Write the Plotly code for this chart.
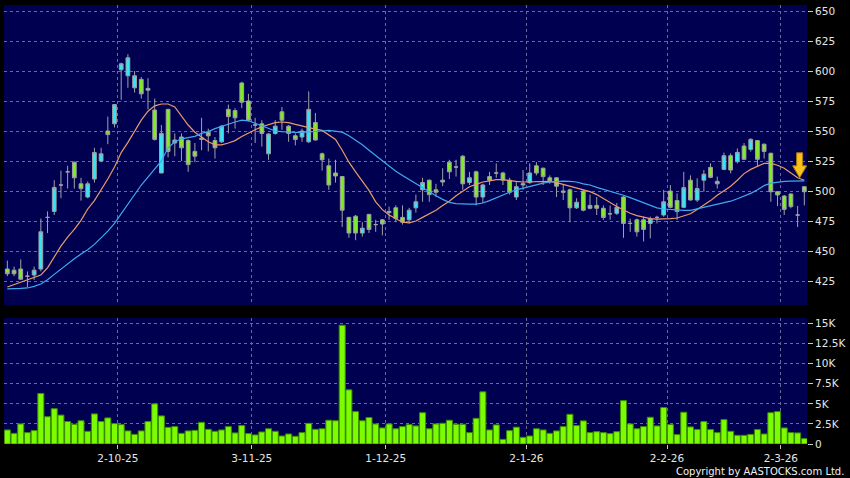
import pandas as pd
import plotly.graph_objects as go

# ---------------- data ----------------
holidays = ["2025-10-01", "2025-10-07", "2025-10-29", "2025-12-25", "2025-12-26",
            "2026-01-01", "2026-02-17", "2026-02-18", "2026-02-19"]
dates = [d.strftime("%Y-%m-%d") for d in pd.bdate_range("2025-09-09", "2026-03-06")
         if d.strftime("%Y-%m-%d") not in holidays]

opens = [435, 434, 435, 429, 430, 435, 478, 483, 505, 516,
         524, 506, 495, 510, 525, 550, 556, 601, 596, 586,
         593, 584, 567.5, 515, 568, 540, 545, 542, 533, 543,
         549, 542, 541, 568, 567, 590, 575, 555, 556, 531,
         548, 566, 554, 546, 545, 541, 557, 531, 521, 515,
         512, 478, 479, 465, 480.5, 472, 476, 482, 486, 478,
         476, 486, 501, 509, 501, 507.5, 524, 520, 529, 507,
         516, 495, 512, 515, 515, 509, 495, 505, 507, 521,
         519, 511, 511, 500, 501, 486, 500, 485.6, 488, 485.6,
         481, 481.4, 495, 473, 476, 476, 473, 478, 480, 500,
         492, 486.4, 509, 492.5, 509, 519.7, 506, 518, 529.4, 524.4,
         537.5, 534.7, 542, 539, 531.4, 499.4, 495.8, 497.5, 480, 503.6]
highs = [442, 437, 443, 433, 437, 477, 483, 509, 517, 521,
         524.5, 511, 508, 536, 536, 562, 572.5, 607, 614, 600,
         595, 594, 577, 555, 568.5, 548, 548, 543, 540, 561,
         552, 545, 555, 572, 569, 591, 581, 561, 559, 548,
         559, 570, 555, 548, 552, 583, 565, 532, 527, 526,
         512.5, 478.5, 480, 474, 481, 476, 476.5, 487, 488, 488,
         486, 497, 511, 509.5, 506, 519, 526, 526, 530, 516,
         517, 506, 516, 523, 516, 511, 508, 517.5, 523, 524,
         519.5, 513, 511.5, 505, 502, 494, 500.5, 497, 495, 488,
         488, 490, 495.5, 477, 477, 478.6, 478.6, 479.4, 501, 505,
         498, 516, 513, 510.6, 517.5, 523, 512, 532, 531.4, 535.5,
         540, 544, 542.5, 539.5, 532, 500, 496.7, 498, 487.5, 504]
lows = [429, 429, 426, 420, 426, 433, 465, 480, 494, 502,
        502, 492, 494, 507, 524, 539, 553, 576, 586, 582,
        577, 568, 542, 515, 528, 529, 525, 516, 524, 534,
        533, 527, 540, 548, 552, 569, 558, 540, 537, 526,
        547, 551, 541, 538, 541, 540, 542, 517, 501, 507,
        470, 461, 459, 462, 465, 466, 463, 476, 474, 472,
        473, 482, 491, 491, 495, 504, 510, 512, 501, 505,
        488, 490, 505, 511, 505, 497, 492.5, 501, 506, 513,
        505, 506, 495, 492.5, 474, 485, 483, 484.7, 480, 476,
        476, 480, 461, 466, 462, 458, 460.6, 473, 478.6, 485.6,
        476, 485.6, 492, 491, 499.4, 510.6, 502, 517.5, 514.7, 523,
        525.8, 532.8, 520, 527, 491, 487.5, 480, 485.6, 470, 488]
closes = [431, 431, 426.5, 429, 434, 466, 478, 503, 505, 516,
          511, 502, 506, 532, 531, 547, 572, 606, 611, 596,
          581, 585.5, 543, 548, 533, 542.5, 536, 522, 529, 544,
          546, 536, 554, 562, 561, 574, 559, 555, 548, 547.5,
          554, 559, 548, 543, 550, 568, 542.5, 526, 505, 512.5,
          484, 465, 465, 469, 468, 472, 472.5, 483, 477, 474,
          484, 491, 507, 497, 499, 509, 516, 520, 506, 511,
          495, 505, 509, 515, 509, 499, 503.6, 506, 515, 515,
          512, 508, 504, 499, 486, 490.6, 484, 488, 485.6, 478,
          481, 486.4, 473, 473, 466, 468, 476.7, 478, 491, 486.4,
          483, 502.8, 492.5, 502, 514, 511.4, 508, 529.4, 517.5, 532.2,
          526.4, 543, 526.4, 533, 499.4, 496.7, 484.7, 487, 480, 499.4]
ma10 = [420, 422, 423.5, 425.5, 427.5, 430, 436, 445, 454, 461.5,
        468, 475.5, 485, 492, 500.5, 510, 520, 532, 540.5, 550,
        559, 566.5, 571, 572.5, 572.5, 570, 562, 555, 549, 545,
        541, 538.5, 538.5, 540, 542, 545.5, 548.5, 551, 553.5, 555.5,
        557, 557.5, 557, 555.5, 554, 552.5, 551.5, 550.5, 547, 543,
        534, 524, 516, 508.5, 500.5, 491, 484.5, 480, 477, 474,
        473.5, 475, 478, 481, 484, 488, 491.5, 496, 500, 503.5,
        505.5, 507.5, 508.5, 509.5, 509.5, 508.5, 508, 507.5, 507.5, 507.5,
        508, 508, 507, 505.5, 504, 503, 501.5, 499.5, 497, 494,
        490.5, 487, 484, 481.5, 479.5, 478, 477, 476.5, 476.5, 477,
        477.5, 479, 481, 484.5, 488, 492, 496.5, 500, 504, 509,
        514.5, 518, 520.5, 523, 523, 521.5, 519, 515, 511, 509]
ma20 = [418.5, 418.5, 418.8, 419.2, 420.5, 422.5, 426, 430.5, 435, 439.5,
        443.5, 447.5, 451, 455.5, 461, 466.5, 473, 481, 489.5, 497.5,
        505, 511.5, 518, 525, 536, 541, 543.5, 544.5, 545.5, 548,
        549.5, 552, 554, 556, 557.5, 559, 558.5, 556.5, 554.5, 552,
        550, 549.5, 549, 548.8, 548.8, 549, 549.5, 550, 550.5, 550,
        549, 546, 542.5, 538.5, 534, 529.5, 525, 520.5, 516.5, 513,
        509.5, 506, 502.5, 499.5, 496, 493, 490.5, 489.5, 489, 489,
        489, 490, 492, 494.5, 497, 499, 501, 502.5, 504, 505.5,
        506.5, 507.5, 508, 508.2, 508, 507.5, 506, 505, 503, 501.5,
        499.5, 498, 496.5, 494.5, 492.5, 490.5, 488, 486, 485, 484.5,
        484, 483.8, 483.8, 485, 486.5, 487.5, 488.5, 490, 491.5, 493.5,
        495.5, 498, 501, 504.5, 506.5, 507.5, 508, 508.3, 508.5, 508.5]
volumes = [1750, 1330, 2500, 1420, 1670, 6300, 3400, 4400, 3600, 2800,
           2460, 2900, 1580, 3750, 2800, 3250, 2540, 2420, 1630, 1200,
           1630, 2800, 5000, 3500, 2080, 2170, 1330, 1630, 1700, 2700,
           1830, 1580, 1750, 2170, 1380, 2300, 1300, 1130, 1500, 1900,
           1580, 1000, 1250, 960, 1420, 2580, 1830, 1900, 2960, 2900,
           14800, 6750, 4040, 2900, 3300, 2500, 2000, 2500, 1900, 2170,
           2420, 2250, 3900, 1900, 2500, 2580, 2960, 2460, 2460, 1420,
           3200, 6500, 1750, 2380, 580, 1670, 2100, 830, 1000, 1900,
           1750, 1330, 1630, 2170, 3700, 2300, 2880, 1420, 1540, 1420,
           1300, 1540, 5400, 2500, 1900, 2170, 3330, 2250, 4540, 2420,
           1170, 3960, 2130, 1800, 2800, 1800, 1420, 3040, 1580, 1080,
           1080, 1200, 1800, 1250, 3900, 4040, 2000, 1420, 1380, 670]

price_ticks = [425, 450, 475, 500, 525, 550, 575, 600, 625, 650]
vol_ticks = [0, 2500, 5000, 7500, 10000, 12500, 15000]
vol_tick_labels = ["0", "2.5K", "5K", "7.5K", "10K", "12.5K", "15K"]
tick_dates = ["2025-10-02", "2025-11-03", "2025-12-01", "2026-01-02", "2026-02-02", "2026-03-02"]
tick_labels = ["2-10-25", "3-11-25", "1-12-25", "2-1-26", "2-2-26", "2-3-26"]

# ---------------- figure ----------------
idx = list(range(len(dates)))
tickvals = [dates.index(d) + 0.5 for d in tick_dates]

NAVY = "#000050"
GRID = "#6A6A9A"
CYAN = "#33E6F6"
LIME = "#7FEE1E"
WICK = "#A0A0A8"

fig = go.Figure()
fig.add_trace(go.Candlestick(
    x=idx, open=opens, high=highs, low=lows, close=closes, text=dates,
    increasing=dict(fillcolor=CYAN, line=dict(color=WICK, width=1)),
    decreasing=dict(fillcolor=LIME, line=dict(color=WICK, width=1)),
    whiskerwidth=0, xaxis="x", yaxis="y", showlegend=False))
fig.add_trace(go.Scatter(x=idx, y=ma10, mode="lines", line=dict(color="#E89A6A", width=1.2),
                         xaxis="x", yaxis="y", showlegend=False, hoverinfo="skip"))
fig.add_trace(go.Scatter(x=idx, y=ma20, mode="lines", line=dict(color="#3FA9EE", width=1.2),
                         xaxis="x", yaxis="y", showlegend=False, hoverinfo="skip"))
fig.add_trace(go.Bar(x=idx, y=volumes, text=dates, textposition="none",
                     marker=dict(color="#7CFC00", line=dict(color="#3C8C00", width=1)),
                     xaxis="x2", yaxis="y2", showlegend=False))

# yellow marker arrow near the latest bars
arrow_i = len(idx) - 2
fig.add_shape(type="path", xref="x", yref="y", xsizemode="pixel", ysizemode="pixel",
              xanchor=arrow_i + 0.3, yanchor=ma10[arrow_i],
              path="M0,0 L-7,12 L-3,12 L-3,25 L3,25 L3,12 L7,12 Z",
              fillcolor="#F7C21C", line=dict(color="#B07800", width=1), layer="above")

axis_common = dict(showline=False, zeroline=False, gridcolor=GRID, griddash="3px,3px", gridwidth=1)
L, R, T, B = 4, 43, 5, 34
H = 478 - T - B
price_bottom = (444 - 305) / H
vol_top = (444 - 318) / H

fig.update_layout(
    width=850, height=478,
    margin=dict(l=L, r=R, t=T, b=B, autoexpand=False),
    paper_bgcolor="#000000", plot_bgcolor=NAVY,
    font=dict(family="DejaVu Sans", size=10.5, color="#E6E6E6"),
    xaxis=dict(domain=[0, 1], anchor="y", range=[-0.5, len(idx) - 0.6], tickmode="array",
               tickvals=tickvals, showticklabels=False, ticks="", rangeslider=dict(visible=False),
               **axis_common),
    yaxis=dict(domain=[price_bottom, 1], anchor="x", side="right", range=[405, 655],
               tickmode="array", tickvals=price_ticks, ticks="outside", ticklen=5,
               tickcolor="#C8C8C8", **axis_common),
    xaxis2=dict(domain=[0, 1], anchor="y2", matches="x", tickmode="array", tickvals=tickvals,
                ticktext=tick_labels, ticks="outside", ticklen=4, tickcolor="#C8C8C8",
                **axis_common),
    yaxis2=dict(domain=[0, vol_top], anchor="x2", side="right", range=[0, 15700],
                tickmode="array", tickvals=vol_ticks, ticktext=vol_tick_labels,
                ticks="outside", ticklen=5, tickcolor="#C8C8C8", **axis_common),
    bargap=0.1,
    boxgap=0.2,
    hovermode="closest",
    annotations=[dict(text="Copyright by AASTOCKS.com Ltd.", xref="paper", yref="paper",
                      x=(846 - L) / (850 - L - R), y=-(471 - 444) / H, xanchor="right",
                      yanchor="middle", showarrow=False,
                      font=dict(family="DejaVu Sans", size=10, color="#F0F0F0"))],
)

fig.write_html("out.html", config={"displayModeBar": False},
               post_script="document.body.style.margin='0px';document.body.style.overflow='hidden';")
